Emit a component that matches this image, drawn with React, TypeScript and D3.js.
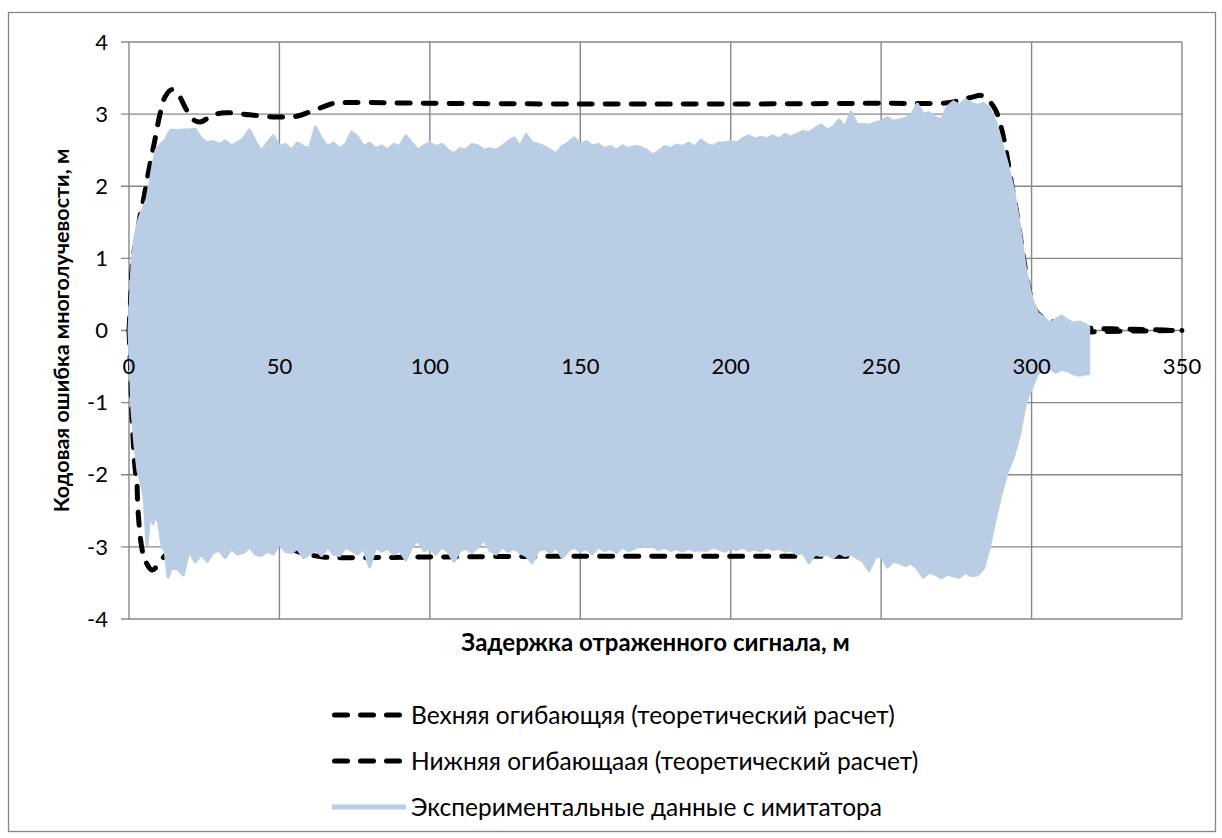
import React from "react";
import * as d3 from "d3";

// ---------- data ----------
const xTicks = [0, 50, 100, 150, 200, 250, 300, 350];
const yTicks = [-4, -3, -2, -1, 0, 1, 2, 3, 4];

const upperX = [0, 0.5, 1.3, 2.6, 3.6, 4.8, 6.4, 8.6, 10.3, 12, 14.2, 16.4, 18.6, 20.9, 23.6, 28, 32.5, 40, 49, 55.7, 60, 64.5, 68, 72.5, 100, 150, 200, 250, 270, 274, 280.6, 283, 285, 288, 290, 291.5, 293.5, 295, 297, 299, 301, 303, 305, 307, 310, 313, 320, 330, 340, 350];
const upperY = [0, 0.4, 0.98, 1.3, 1.57, 1.81, 2.18, 2.64, 3.0, 3.24, 3.34, 3.27, 3.1, 2.94, 2.89, 2.99, 3.02, 2.99, 2.96, 2.97, 3.03, 3.1, 3.15, 3.16, 3.15, 3.14, 3.14, 3.15, 3.15, 3.17, 3.24, 3.26, 3.22, 3.06, 2.8, 2.5, 2.0, 1.65, 1.1, 0.6, 0.3, 0.2, 0.17, 0.12, 0.07, 0.04, 0.03, 0.02, 0.01, 0.0];

const lowerX = [0, 0.5, 1, 2, 2.6, 3, 4.2, 5.3, 7.6, 9.7, 12, 15, 20, 27, 35, 45, 50, 57, 64.5, 70, 100, 150, 200, 250, 270, 280, 284, 286, 288, 290, 292, 294, 296, 298, 300, 302, 305, 310, 320, 330, 350];
const lowerY = [0, -0.5, -1.2, -1.9, -2.1, -2.5, -3.0, -3.18, -3.32, -3.25, -3.12, -3.03, -2.98, -3.0, -3.0, -2.98, -2.97, -3.08, -3.14, -3.15, -3.14, -3.13, -3.13, -3.13, -3.13, -3.13, -3.1, -2.88, -2.4, -1.95, -1.6, -1.3, -0.9, -0.55, -0.3, -0.15, -0.08, -0.04, -0.02, -0.01, 0];

const expX = [0, 1, 2, 3, 4, 5, 6, 7, 8, 9, 10, 11, 12, 13, 14, 16, 18, 20, 22, 24,
  26, 28, 30, 32, 34, 36, 38, 40, 42, 44, 46, 48, 50, 52, 54, 56, 58, 60, 62, 64, 66, 68, 70, 72, 74, 76, 78, 80,
  82, 84, 86, 88, 90, 92, 94, 96, 98, 100, 102, 104, 106, 108, 110, 112, 114, 116, 118, 120, 122, 124, 126, 128, 130,
  132, 134, 136, 138, 140, 142, 144, 146, 148, 150, 152, 154, 156, 158, 160, 162, 164, 166, 168, 170, 172, 174, 176,
  178, 180, 182, 184, 186, 188, 190, 192, 194, 196, 198, 200, 202, 204, 206, 208, 210, 212, 214, 216, 218, 220, 222,
  224, 226, 228, 230, 232, 234, 236, 238, 240, 242, 244, 246, 248, 250, 252, 254, 256, 258, 260, 262, 264, 266, 268,
  270, 272, 274, 276, 278, 280, 282, 284, 286, 288, 290, 292, 294, 296, 298, 300, 302, 304, 306, 308, 310, 312, 314,
  316, 318, 319];
const expTop = [0, 0.9, 1.3, 1.5, 1.62, 1.72, 1.82, 2.05, 2.3, 2.5, 2.55, 2.6, 2.63, 2.72, 2.78, 2.77, 2.78, 2.78, 2.79, 2.66,
  2.6, 2.62, 2.58, 2.63, 2.56, 2.6, 2.66, 2.78, 2.62, 2.48, 2.6, 2.7, 2.55, 2.58, 2.5, 2.6, 2.55, 2.52, 2.82, 2.66, 2.55, 2.6, 2.52, 2.58, 2.75, 2.68, 2.55, 2.6,
  2.52, 2.56, 2.5, 2.58, 2.55, 2.7, 2.6, 2.5, 2.56, 2.6, 2.55, 2.58, 2.5, 2.45, 2.52, 2.5, 2.58, 2.56, 2.5, 2.52, 2.5, 2.55, 2.62, 2.67, 2.55,
  2.72, 2.6, 2.58, 2.55, 2.5, 2.45, 2.55, 2.6, 2.67, 2.58, 2.62, 2.56, 2.58, 2.52, 2.55, 2.5, 2.56, 2.52, 2.55, 2.54, 2.5, 2.43, 2.48,
  2.55, 2.52, 2.57, 2.55, 2.6, 2.54, 2.64, 2.58, 2.55, 2.6, 2.6, 2.62, 2.6, 2.66, 2.7, 2.65, 2.68, 2.66, 2.7, 2.65, 2.72, 2.68, 2.72,
  2.76, 2.74, 2.8, 2.85, 2.78, 2.82, 2.92, 2.82, 3.03, 2.85, 2.86, 2.84, 2.88, 2.9, 2.95, 2.9, 2.92, 2.94, 2.98, 3.14, 3.0, 3.02, 2.95,
  2.92, 3.1, 3.17, 3.12, 3.2, 3.15, 3.12, 3.15, 3.08, 2.9, 2.6, 2.3, 1.95, 1.45, 0.85, 0.45, 0.24, 0.18, 0.1, 0.15, 0.2, 0.14, 0.1,
  0.12, 0.08, 0.05];
const expBottom = [0, -1.1, -1.6, -1.95, -2.1, -2.3, -2.98, -2.5, -2.68, -2.52, -2.7, -3.0, -3.05, -3.42, -3.3, -3.3, -3.39, -3.05, -3.21, -3.1,
  -3.2, -3.07, -3.05, -3.15, -3.02, -3.1, -3.08, -3.0, -3.1, -3.12, -3.06, -3.1, -2.95, -3.06, -3.08, -3.02, -3.15, -3.1, -3.04, -3.12, -3.0, -3.1, -3.12, -3.0, -3.05, -3.1, -3.02, -3.28,
  -3.0, -3.06, -3.02, -3.1, -3.05, -3.18, -3.0, -2.9, -3.05, -3.02, -3.1, -3.0, -3.06, -3.2, -3.05, -3.02, -3.08, -3.0, -2.9, -3.05, -3.1, -3.0, -3.06, -3.02, -3.08,
  -3.12, -3.22, -3.05, -3.02, -3.08, -3.0, -3.15, -3.05, -3.0, -3.06, -3.02, -3.1, -3.0, -3.05, -3.02, -3.08, -3.0, -3.05, -3.02, -2.97, -3.0, -2.98, -3.04,
  -3.0, -3.05, -3.02, -3.06, -3.02, -3.05, -3.04, -3.05, -3.0, -3.03, -3.06, -3.02, -3.04, -3.0, -3.05, -3.03, -3.06, -3.0, -3.04, -3.02, -3.06, -3.04, -3.1,
  -3.08, -3.22, -3.1, -3.12, -3.1, -3.15, -3.08, -3.12, -3.1, -3.15, -3.2, -3.33, -3.15, -3.12, -3.28, -3.2, -3.22, -3.26, -3.22, -3.3, -3.42, -3.35, -3.38,
  -3.43, -3.38, -3.4, -3.42, -3.35, -3.4, -3.39, -3.3, -3.0, -2.6, -2.25, -1.95, -1.75, -1.45, -1.0, -0.8, -0.6, -0.55, -0.52, -0.58, -0.54, -0.56, -0.6,
  -0.62, -0.6, -0.6];

const legendLabels = [
  "Вехняя огибающяя (теоретический расчет)",
  "Нижняя огибающаая (теоретический расчет)",
  "Экспериментальные данные с имитатора",
];
const xTitle = "Задержка отраженного сигнала, м";
const yTitle = "Кодовая ошибка многолучевости, м";

// ---------- styles / layout ----------
const W = 1222;
const H = 838;
const PL = 129, PR = 1182, PT = 42, PB = 619;
const GRID = "#878787";
const BLUE = "#B9CDE5";
const FONT = "Lato, 'Open Sans', sans-serif";

export default function App() {
  const x = d3.scaleLinear().domain([0, 350]).range([PL, PR]);
  const y = d3.scaleLinear().domain([-4, 4]).range([PB, PT]);

  const upper = upperX.map((v, i) => [v, upperY[i]] as [number, number]);
  const lower = lowerX.map((v, i) => [v, lowerY[i]] as [number, number]);
  const exp = expX.map((v, i) => ({ x: v, t: expTop[i], b: expBottom[i] }));

  const line = d3
    .line<[number, number]>()
    .x((d) => x(d[0]))
    .y((d) => y(d[1]))
    .curve(d3.curveCatmullRom.alpha(0.5));

  const area = d3
    .area<{ x: number; t: number; b: number }>()
    .x((d) => x(d.x))
    .y0((d) => y(d.b))
    .y1((d) => y(d.t))
    .curve(d3.curveLinear);

  const legendY = [715, 761, 807];

  return (
    <svg width={W} height={H} style={{ position: "absolute", left: 0, top: 0, display: "block" }}>
      <rect x={0} y={0} width={W} height={H} fill="#fff" />
      <rect x={8.5} y={12.5} width={1207} height={819} fill="none" stroke={GRID} strokeWidth={1.3} />

      {/* grid */}
      {yTicks.map((t) => (
        <line key={"gy" + t} x1={PL - 8} x2={PR} y1={y(t)} y2={y(t)} stroke={GRID} strokeWidth={1.4} />
      ))}
      {xTicks.map((t) => (
        <line key={"gx" + t} x1={x(t)} x2={x(t)} y1={PT} y2={PB} stroke={GRID} strokeWidth={1.4} />
      ))}

      {/* envelopes */}
      <path d={line(upper) || ""} fill="none" stroke="#000" strokeWidth={5} strokeDasharray="13 13" strokeLinecap="round" />
      <path d={line(lower) || ""} fill="none" stroke="#000" strokeWidth={5} strokeDasharray="13 13" strokeLinecap="round" />

      {/* experimental data */}
      <path d={area(exp) || ""} fill={BLUE} stroke={BLUE} strokeWidth={3} strokeLinejoin="round" />

      {/* tick labels */}
      {yTicks.map((t) => (
        <text key={"ly" + t} x={108} y={y(t)} dy="0.35em" textAnchor="end" fontFamily={FONT} fontSize={22} fill="#000">
          {String(t)}
        </text>
      ))}
      {xTicks.map((t) => (
        <text key={"lx" + t} x={x(t)} y={366} dy="0.35em" textAnchor="middle" fontFamily={FONT} fontSize={22} fill="#000">
          {String(t)}
        </text>
      ))}

      {/* axis titles */}
      <text x={(PL + PR) / 2} y={651} textAnchor="middle" fontFamily={FONT} fontWeight="bold" fontSize={24} fill="#000">
        {xTitle}
      </text>
      <text
        transform={`translate(69, ${(PT + PB) / 2}) rotate(-90)`}
        textAnchor="middle"
        fontFamily={FONT}
        fontWeight="bold"
        fontSize={21.5}
        fill="#000"
      >
        {yTitle}
      </text>

      {/* legend */}
      {legendLabels.map((lab, i) => (
        <g key={"lg" + i}>
          {i < 2 ? (
            <line x1={334.5} x2={404} y1={legendY[i]} y2={legendY[i]} stroke="#000" strokeWidth={5} strokeDasharray="13 13" strokeLinecap="round" />
          ) : (
            <line x1={332} x2={406} y1={legendY[i]} y2={legendY[i]} stroke={BLUE} strokeWidth={5} />
          )}
          <text x={411} y={legendY[i]} dy="0.35em" fontFamily={FONT} fontSize={24.5} fill="#000">
            {lab}
          </text>
        </g>
      ))}
    </svg>
  );
}
